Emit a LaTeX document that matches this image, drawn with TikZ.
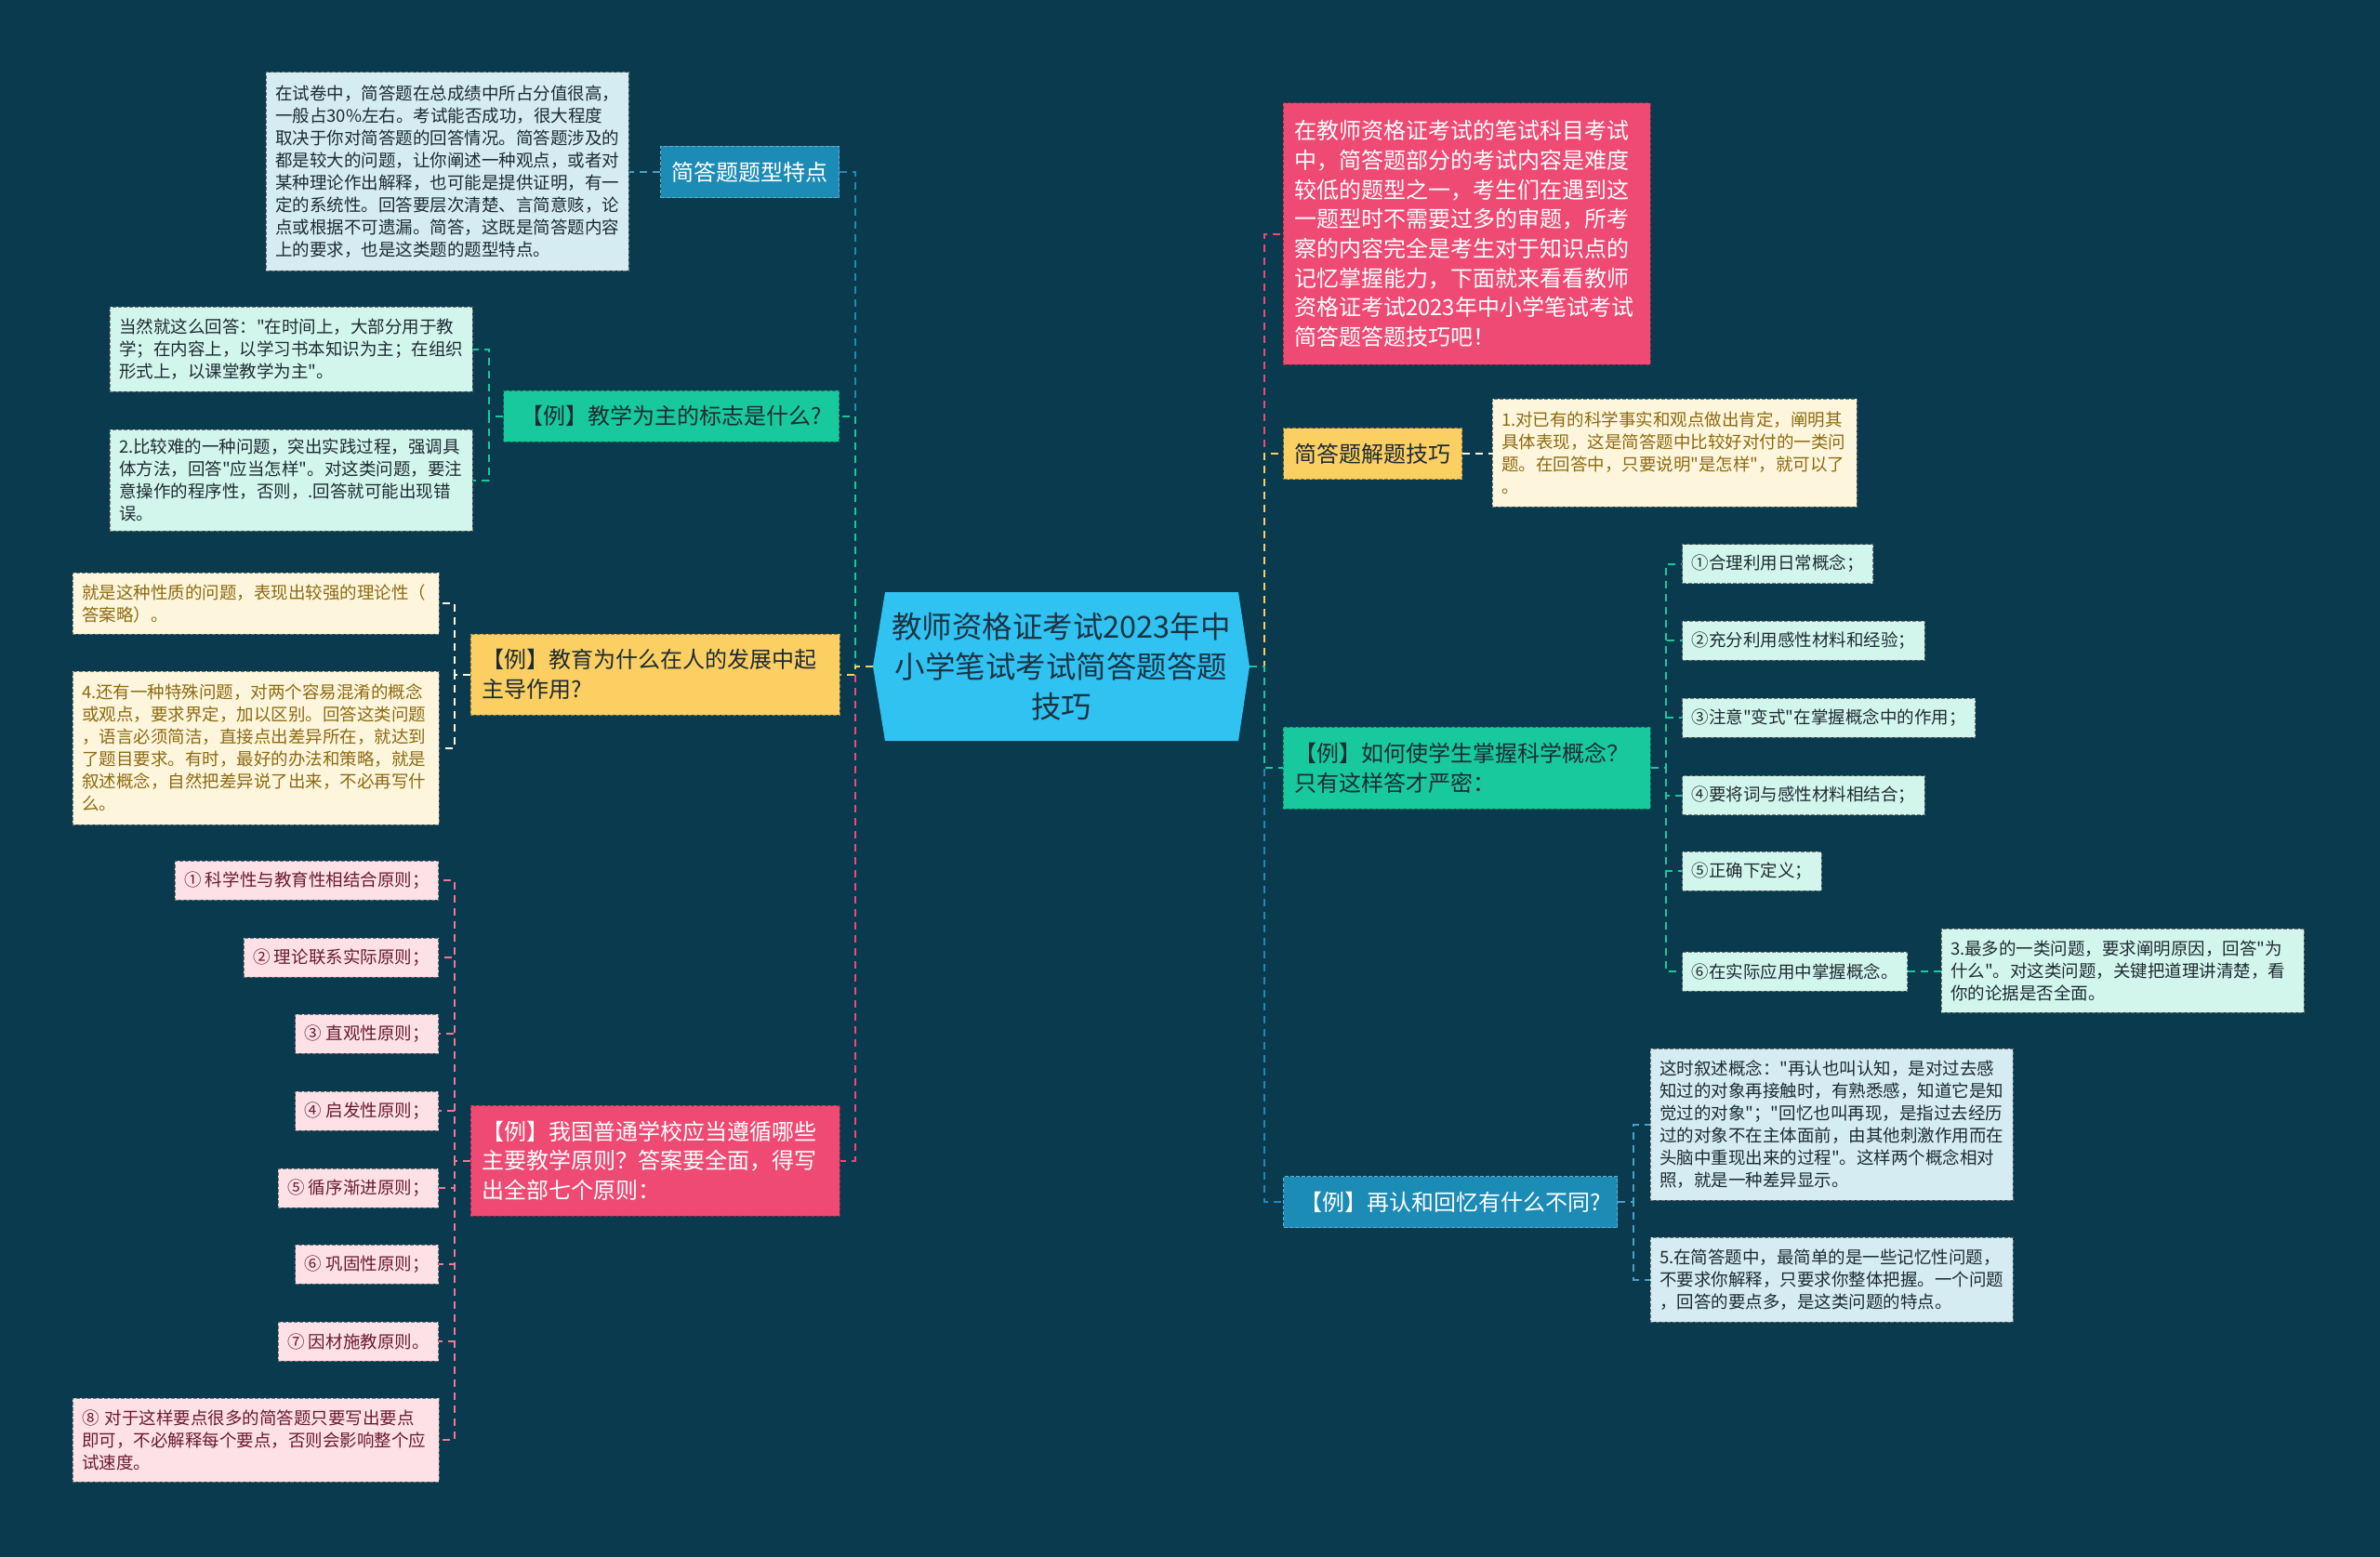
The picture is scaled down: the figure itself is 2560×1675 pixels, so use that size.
\documentclass[tikz,border=0pt]{standalone}
\usepackage{fontspec}
\setmainfont{Noto Sans CJK SC}
\newfontfamily\cjk{Noto Sans CJK SC}
\definecolor{bg}{HTML}{0A3A4E}
\definecolor{cteal}{HTML}{1C8BB6}
\definecolor{cgreen}{HTML}{17C99C}
\definecolor{cyellow}{HTML}{FCCF63}
\definecolor{cpink}{HTML}{EE4A73}
\definecolor{croot}{HTML}{30C3F2}
\definecolor{lblue}{HTML}{D4ECF2}
\definecolor{lmint}{HTML}{D3F6EC}
\definecolor{lcream}{HTML}{FEF6DC}
\definecolor{lpink}{HTML}{FDE1E7}
\definecolor{tdark}{HTML}{1E2B33}
\definecolor{troot}{HTML}{1B3444}
\definecolor{tbrown}{HTML}{8C6A12}
\definecolor{tmaroon}{HTML}{6A1A30}
\tikzset{
  boxbase/.style={inner xsep=10pt, inner ysep=5pt, align=left, line width=1pt, dash pattern=on 4pt off 2pt},
  mainbox/.style={boxbase, inner xsep=12pt, font=\cjk\fontsize{24}{31.7}\selectfont, minimum height=55pt},
  subbox/.style={boxbase, font=\cjk\fontsize{18.5}{24}\selectfont, minimum height=42pt},
  mteal/.style={mainbox, fill=cteal, draw=cteal!70!white, text=white},
  mgreen/.style={mainbox, fill=cgreen, draw=cgreen!60!black, text=tdark},
  myellow/.style={mainbox, fill=cyellow, draw=cyellow!60!black, text=tdark},
  mpink/.style={mainbox, fill=cpink, draw=cpink!60!black, text=white},
  sblue/.style={subbox, fill=lblue, draw=black!55, text=tdark},
  smint/.style={subbox, fill=lmint, draw=black!55, text=tdark},
  scream/.style={subbox, fill=lcream, draw=black!55, text=tbrown},
  spink/.style={subbox, fill=lpink, draw=black!55, text=tmaroon},
  link/.style={line width=2pt, dash pattern=on 8pt off 6pt},
}
\begin{document}
\begin{tikzpicture}[x=1pt,y=-1pt]
\useasboundingbox (0,0) rectangle (2560,1675);
\fill[bg] (0,0) rectangle (2560,1675);

% root hexagon
\fill[croot] (939,717) -- (952,637) -- (1332,637) -- (1344,717) -- (1332,797) -- (952,797) -- cycle;
\node[minimum width=405pt, minimum height=160pt, inner sep=0pt, align=center, text=troot,
      font=\cjk\fontsize{32.5}{43}\selectfont] (root) at (1141.5,717)
  {教师资格证考试2023年中\\小学笔试考试简答题答题\\技巧};

% spines
\coordinate (sL) at (920,717);
\coordinate (sR) at (1360,717);

% ---------- left side ----------
\node[mteal, anchor=east, minimum width=191pt] (L1) at (903,185) {简答题题型特点};
\node[sblue, text width=370pt, minimum height=213pt] (L1a) at (481,184.5)
  {在试卷中，简答题在总成绩中所占分值很高，\\一般占30\%左右。考试能否成功，很大程度\\取决于你对简答题的回答情况。简答题涉及的\\都是较大的问题，让你阐述一种观点，或者对\\某种理论作出解释，也可能是提供证明，有一\\定的系统性。回答要层次清楚、言简意赅，论\\点或根据不可遗漏。简答，这既是简答题内容\\上的要求，也是这类题的题型特点。};

\node[mgreen, anchor=east, minimum width=361pt] (L2) at (903,447.5) {【例】教学为主的标志是什么?};
\node[smint, text width=370pt, minimum height=91pt] (L2a) at (313,375.5)
  {当然就这么回答："在时间上，大部分用于教\\学；在内容上，以学习书本知识为主；在组织\\形式上，以课堂教学为主"。};
\node[smint, text width=370pt, minimum height=109pt] (L2b) at (313,516.5)
  {2.比较难的一种问题，突出实践过程，强调具\\体方法，回答"应当怎样"。对这类问题，要注\\意操作的程序性，否则，.回答就可能出现错\\误。};

\node[myellow, text width=373pt, minimum height=87pt] (L3) at (704.5,725.5)
  {【例】教育为什么在人的发展中起\\主导作用?};
\node[scream, text width=374pt, minimum height=66pt] (L3a) at (275,649)
  {就是这种性质的问题，表现出较强的理论性（\\答案略）。};
\node[scream, text width=374pt, minimum height=165pt] (L3b) at (275,804.5)
  {4.还有一种特殊问题，对两个容易混淆的概念\\或观点，要求界定，加以区别。回答这类问题\\，语言必须简洁，直接点出差异所在，就达到\\了题目要求。有时，最好的办法和策略，就是\\叙述概念，自然把差异说了出来，不必再写什\\么。};

\node[mpink, text width=373pt, minimum height=119pt] (L4) at (704.5,1248.5)
  {【例】我国普通学校应当遵循哪些\\主要教学原则？答案要全面，得写\\出全部七个原则：};
\node[spink, anchor=east] (P1) at (472,947) {① 科学性与教育性相结合原则；};
\node[spink, anchor=east] (P2) at (472,1030) {② 理论联系实际原则；};
\node[spink, anchor=east] (P3) at (472,1112) {③ 直观性原则；};
\node[spink, anchor=east] (P4) at (472,1195) {④ 启发性原则；};
\node[spink, anchor=east] (P5) at (472,1278) {⑤ 循序渐进原则；};
\node[spink, anchor=east] (P6) at (472,1360) {⑥ 巩固性原则；};
\node[spink, anchor=east] (P7) at (472,1443) {⑦ 因材施教原则。};
\node[spink, text width=374pt, minimum height=90pt] (P8) at (275,1549)
  {⑧ 对于这样要点很多的简答题只要写出要点\\即可，不必解释每个要点，否则会影响整个应\\试速度。};

% ---------- right side ----------
\node[mpink, text width=371pt, minimum height=281pt] (R1) at (1577.5,251.5)
  {在教师资格证考试的笔试科目考试\\中，简答题部分的考试内容是难度\\较低的题型之一，考生们在遇到这\\一题型时不需要过多的审题，所考\\察的内容完全是考生对于知识点的\\记忆掌握能力，下面就来看看教师\\资格证考试2023年中小学笔试考试\\简答题答题技巧吧！};

\node[myellow, anchor=west, minimum width=191pt] (R2) at (1380,488) {简答题解题技巧};
\node[scream, text width=372pt, minimum height=116pt] (R2a) at (1801,487)
  {1.对已有的科学事实和观点做出肯定，阐明其\\具体表现，这是简答题中比较好对付的一类问\\题。在回答中，只要说明"是怎样"，就可以了\\。};

\node[mgreen, text width=371pt, minimum height=88pt] (R3) at (1577.5,826)
  {【例】如何使学生掌握科学概念？\\只有这样答才严密：};
\node[smint, anchor=west] (C1) at (1809,606.5) {①合理利用日常概念；};
\node[smint, anchor=west] (C2) at (1809,689) {②充分利用感性材料和经验；};
\node[smint, anchor=west] (C3) at (1809,772) {③注意"变式"在掌握概念中的作用；};
\node[smint, anchor=west] (C4) at (1809,855.5) {④要将词与感性材料相结合；};
\node[smint, anchor=west] (C5) at (1809,937) {⑤正确下定义；};
\node[smint, anchor=west] (C6) at (1809,1045) {⑥在实际应用中掌握概念。};
\node[smint, text width=370pt, minimum height=90pt] (C6a) at (2283,1044)
  {3.最多的一类问题，要求阐明原因，回答"为\\什么"。对这类问题，关键把道理讲清楚，看\\你的论据是否全面。};

\node[mteal, anchor=west, minimum width=359pt] (R4) at (1380,1293) {【例】再认和回忆有什么不同?};
\node[sblue, text width=370pt, minimum height=163pt] (R4a) at (1970,1209.5)
  {这时叙述概念："再认也叫认知，是对过去感\\知过的对象再接触时，有熟悉感，知道它是知\\觉过的对象"；"回忆也叫再现，是指过去经历\\过的对象不在主体面前，由其他刺激作用而在\\头脑中重现出来的过程"。这样两个概念相对\\照，就是一种差异显示。};
\node[sblue, text width=370pt, minimum height=91pt] (R4b) at (1970,1376.5)
  {5.在简答题中，最简单的是一些记忆性问题，\\不要求你解释，只要求你整体把握。一个问题\\，回答的要点多，是这类问题的特点。};

% ---------- spine coordinates for children ----------
\coordinate (sL2) at (526,447.5);
\coordinate (sL3) at (489,725.5);
\coordinate (sL4) at (489,1248.5);
\coordinate (sR3) at (1792,826);
\coordinate (sR4) at (1757,1293);

% ---------- connectors: root to branches ----------
\draw[link, cteal]   (root.west) -- (sL) |- (L1.east);
\draw[link, cgreen]  (root.west) -- (sL) |- (L2.east);
\draw[link, cpink]   (root.west) -- (sL) |- (L4.east);
\draw[link, cyellow] (root.west) -- (sL) |- (L3.east);
\draw[link, cpink]   (root.east) -- (sR) |- (R1.west);
\draw[link, cyellow] (root.east) -- (sR) |- (R2.west);
\draw[link, cteal]   (root.east) -- (sR) |- (R4.west);
\draw[link, cgreen]  (root.east) -- (sR) |- (R3.west);

% ---------- connectors: branches to leaves ----------
\draw[link, cteal!80!white] (L1.west) -- (L1a.east |- L1.west);
\draw[link, cgreen] (L2.west) -- (sL2) |- (L2a.east);
\draw[link, cgreen] (L2.west) -- (sL2) |- (L2b.east);
\draw[link, lcream] (L3.west) -- (sL3) |- (L3a.east);
\draw[link, lcream] (L3.west) -- (sL3) |- (L3b.east);
\foreach \p in {P1,P2,P3,P4,P5,P6,P7,P8}
  \draw[link, cpink!75!white] (L4.west) -- (sL4) |- (\p.east);
\draw[link, lcream] (R2.east) -- (R2a.west |- R2.east);
\foreach \c in {C1,C2,C3,C4,C5,C6}
  \draw[link, cgreen] (R3.east) -- (sR3) |- (\c.west);
\draw[link, cgreen] (C6.east) -- (C6a.west |- C6.east);
\draw[link, cteal!80!white] (R4.east) -- (sR4) |- (R4a.west);
\draw[link, cteal!80!white] (R4.east) -- (sR4) |- (R4b.west);
\end{tikzpicture}
\end{document}
